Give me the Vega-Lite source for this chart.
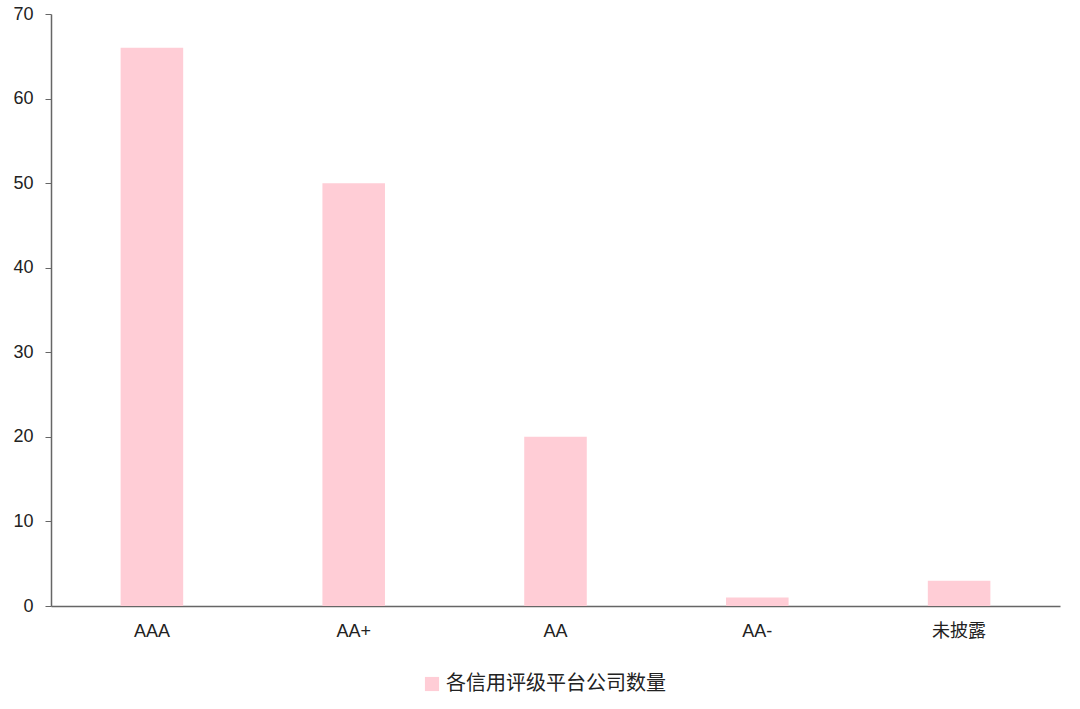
{
  "$schema": "https://vega.github.io/schema/vega-lite/v6.json",
  "width": 1009,
  "height": 592,
  "autosize": {"type": "none"},
  "padding": {"left": 51, "top": 14, "right": 20, "bottom": 103},
  "background": "white",
  "config": {
    "view": {"stroke": null},
    "font": "Liberation Sans, Noto Sans CJK SC, sans-serif"
  },
  "data": {
    "values": [
      {"rating": "AAA", "count": 66, "series": "各信用评级平台公司数量"},
      {"rating": "AA+", "count": 50, "series": "各信用评级平台公司数量"},
      {"rating": "AA", "count": 20, "series": "各信用评级平台公司数量"},
      {"rating": "AA-", "count": 1, "series": "各信用评级平台公司数量"},
      {"rating": "未披露", "count": 3, "series": "各信用评级平台公司数量"}
    ]
  },
  "mark": {"type": "bar"},
  "encoding": {
    "x": {
      "field": "rating",
      "type": "nominal",
      "sort": null,
      "scale": {"paddingInner": 0.69, "paddingOuter": 0.345},
      "axis": {
        "title": null,
        "labelAngle": 0,
        "labelFontSize": 18,
        "labelColor": "#222222",
        "labelPadding": 16,
        "ticks": false,
        "domainColor": "#666666",
        "domainWidth": 1.5,
        "labelFont": "Liberation Sans, Noto Sans CJK SC"
      }
    },
    "y": {
      "field": "count",
      "type": "quantitative",
      "scale": {"domain": [0, 70], "nice": false},
      "axis": {
        "title": null,
        "values": [0, 10, 20, 30, 40, 50, 60, 70],
        "grid": false,
        "labelFontSize": 18,
        "labelColor": "#222222",
        "labelPadding": 12,
        "tickSize": 6,
        "tickColor": "#666666",
        "domainColor": "#666666",
        "domainWidth": 1.5
      }
    },
    "color": {
      "field": "series",
      "type": "nominal",
      "scale": {"range": ["#FFCDD6"]},
      "legend": {
        "title": null,
        "orient": "none",
        "legendX": 371,
        "legendY": 660,
        "symbolType": "square",
        "symbolSize": 200,
        "labelFontSize": 20,
        "labelLimit": 0,
        "labelColor": "#222222",
        "labelFont": "Noto Sans CJK SC",
        "symbolStrokeWidth": 0
      }
    }
  }
}
